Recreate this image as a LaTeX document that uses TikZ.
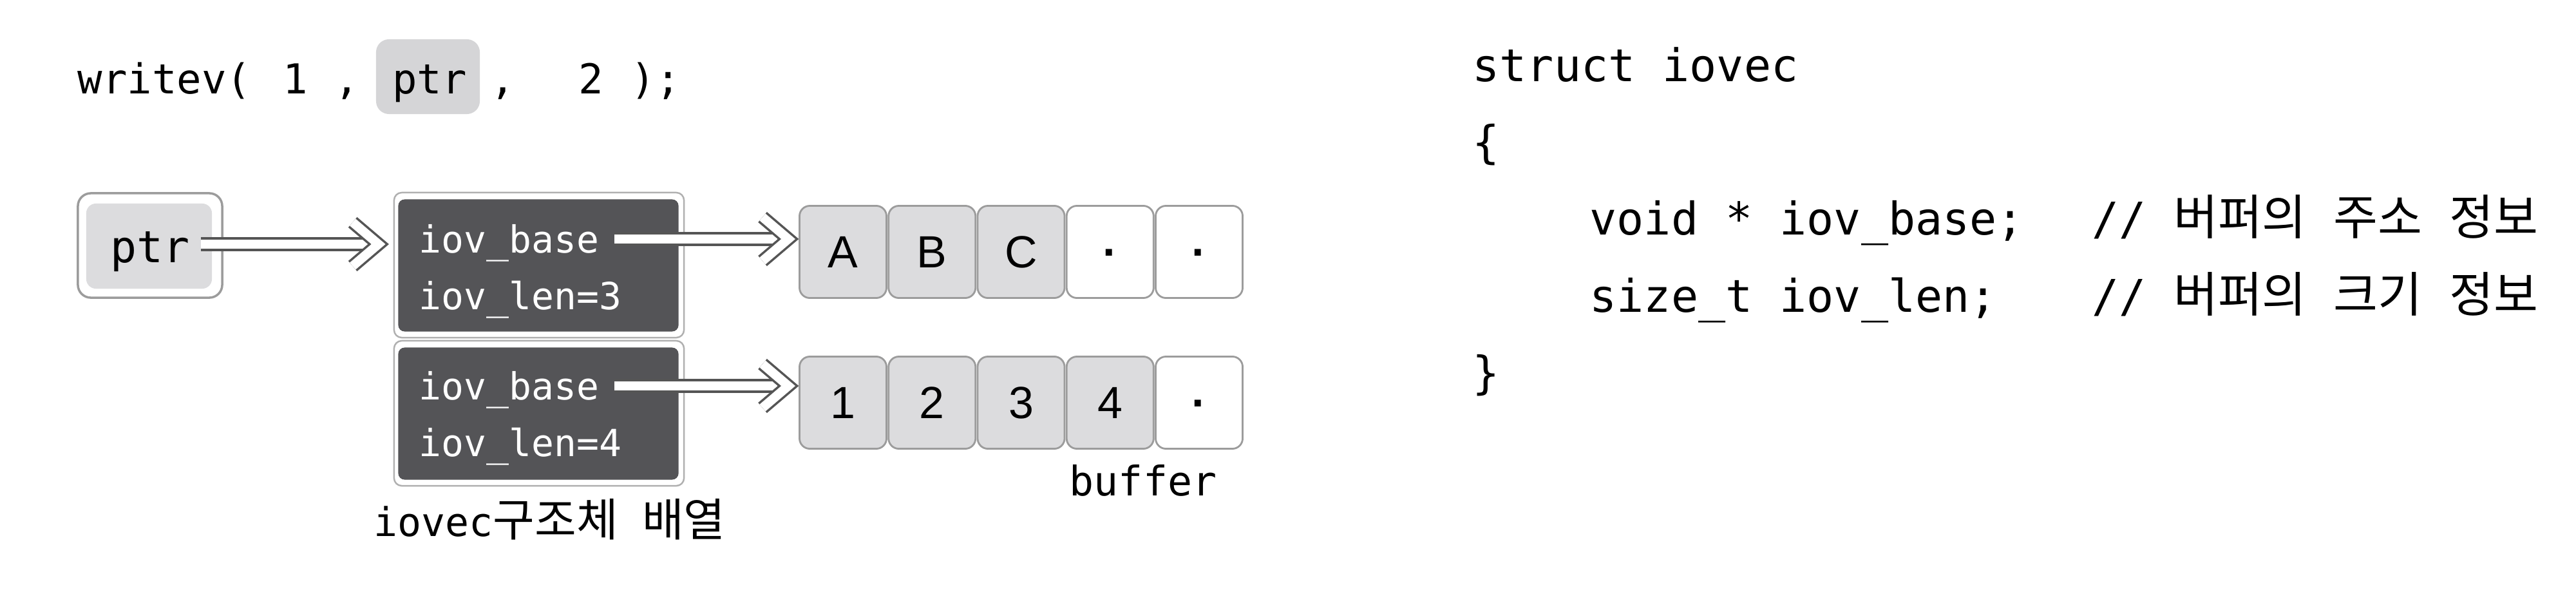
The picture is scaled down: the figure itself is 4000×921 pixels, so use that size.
\documentclass[tikz,border=0pt]{standalone}
\usepackage{fontspec}
\usetikzlibrary{calc}
\newfontfamily\monof{DejaVu Sans Mono}
\newfontfamily\krf{Noto Sans CJK KR}
\newfontfamily\sansf{Liberation Sans}
\newcommand\codeF{\monof\fontsize{19.9pt}{24pt}\selectfont}
\newcommand\wrF{\monof\fontsize{18.2pt}{22pt}\selectfont}
\newcommand\ptrF{\monof\fontsize{19.4pt}{23pt}\selectfont}
\newcommand\ivF{\monof\fontsize{16.5pt}{20pt}\selectfont}
\newcommand\bufF{\monof\fontsize{18pt}{22pt}\selectfont}
\newcommand\lblF{\monof\fontsize{17.5pt}{21pt}\selectfont}
\newcommand\cellF{\sansf\fontsize{19.9pt}{24pt}\selectfont}
\newcommand\krCode[1]{{\krf\fontsize{21.3pt}{24pt}\selectfont #1}}
\newcommand\krLbl[1]{{\krf\fontsize{20pt}{24pt}\selectfont #1}}
\definecolor{cellgray}{HTML}{DCDCDE}
\definecolor{edgegray}{HTML}{9C9C9C}
\definecolor{darkbox}{HTML}{545457}
\definecolor{hlgray}{HTML}{D5D5D7}
\definecolor{arrowgray}{HTML}{555555}
\begin{document}
\begin{tikzpicture}[x=0.01cm,y=-0.01cm,
  txt/.style={inner sep=0pt, anchor=base west},
  ctxt/.style={inner sep=0pt, anchor=base},
  hlbox/.style={fill=hlgray, rounded corners=0.2cm, minimum width=1.61cm, minimum height=1.16cm, inner sep=0pt},
  ptrout/.style={draw=edgegray, line width=1pt, fill=white, rounded corners=0.2cm, minimum width=2.24cm, minimum height=1.62cm, inner sep=0pt},
  ptrin/.style={fill=cellgray, rounded corners=0.15cm, minimum width=1.95cm, minimum height=1.32cm, inner sep=0pt},
  sout/.style={draw=edgegray!80, line width=0.7pt, fill=white, rounded corners=0.12cm, minimum width=4.5cm, minimum height=2.25cm, inner sep=0pt},
  sin/.style={fill=darkbox, rounded corners=0.1cm, minimum width=4.35cm, minimum height=2.05cm, inner sep=0pt},
  ivtxt/.style={txt, font=\ivF, text=white},
  cellbox/.style={draw=edgegray, line width=0.8pt, rounded corners=0.16cm, minimum width=1.35cm, minimum height=1.43cm, inner sep=0pt, font=\cellF, text height=14.2pt, text depth=0pt},
  fullcell/.style={cellbox, fill=cellgray},
  emptycell/.style={cellbox, fill=white, font=\cellF\bfseries},
  dblline/.style={draw=arrowgray, line width=1pt, double=white, double distance=4pt},
  chev/.pic={\draw[dblline, line join=miter, line cap=butt] (-40,-34) -- (0,0) -- (-40,34);}
]
\useasboundingbox (0,0) rectangle (4000,921);

% writev line
\node[hlbox] (hl) at (664.5,119) {};
\node[txt, font=\wrF] (w1) at (120,145) {writev(};
\node[ctxt, font=\wrF] (w2) at (459,145) {1};
\node[ctxt, font=\wrF] (w3) at (539,145) {,};
\node[ctxt, font=\wrF] (wp) at (667,145) {ptr};
\node[ctxt, font=\wrF] (w4) at (781,145) {,};
\node[ctxt, font=\wrF] (w5) at (918,145) {2};
\node[ctxt, font=\wrF] (w6) at (1018,145) {);};

% ptr node
\node[ptrout] (po) at (233,381) {};
\node[ptrin] (pi) at (231.5,382) {};
\node[ctxt, font=\ptrF] (pt) at (233,407) {ptr};

% iovec structures
\node[sout] (o1) at (837,411.5) {};
\node[sin] (i1) at (836,412) {};
\node[ivtxt] (b1) at (650,392) {iov\_base};
\node[ivtxt] (l1) at (650,480) {iov\_len=3};
\node[sout] (o2) at (837,641.5) {};
\node[sin] (i2) at (836,642) {};
\node[ivtxt] (b2) at (650,620) {iov\_base};
\node[ivtxt] (l2) at (650,708) {iov\_len=4};

% buffers
\node[fullcell] (cA) at (1309,391) {A};
\node[fullcell] (cB) at (1447.25,391) {B};
\node[fullcell] (cC) at (1585.5,391) {C};
\node[emptycell] (cD) at (1723.75,391) {·};
\node[emptycell] (cE) at (1862,391) {·};
\node[fullcell] (c1) at (1309,625) {1};
\node[fullcell] (c2) at (1447.25,625) {2};
\node[fullcell] (c3) at (1585.5,625) {3};
\node[fullcell] (c4) at (1723.75,625) {4};
\node[emptycell] (c5) at (1862,625) {·};

% arrows (double shaft + hollow chevron head)
\coordinate (s0) at ($(pt.base east)+(17,-28)$);
\coordinate (e0) at ($(s0 -| o1.west)+(-23,0)$);
\draw[dblline] (s0) -- (e0);
\path (e0) pic {chev};
\coordinate (s1) at ($(b1.base east)+(23,-21)$);
\coordinate (e1) at ($(s1 -| cA.west)+(-16,0)$);
\draw[dblline] (s1) -- (e1);
\path (e1) pic {chev};
\coordinate (s2) at ($(b2.base east)+(23,-21)$);
\coordinate (e2) at ($(s2 -| c1.west)+(-16,0)$);
\draw[dblline] (s2) -- (e2);
\path (e2) pic {chev};

% labels
\node[txt, font=\bufF] (bl) at (1660,769) {buffer};
\node[txt, font=\lblF] (al) at (580,832) {iovec\krLbl{구조체} \krLbl{배열}};

% struct definition
\node[txt, font=\codeF] (r1) at (2286,126) {struct iovec};
\node[txt, font=\codeF] (r2) at (2286,245) {\{};
\node[txt, font=\codeF] (r3) at (2468,364) {void * iov\_base;};
\node[txt, font=\codeF] (r3c) at (3248,364) {// \krCode{버퍼의} \krCode{주소} \krCode{정보}};
\node[txt, font=\codeF] (r4) at (2468,484) {size\_t iov\_len;};
\node[txt, font=\codeF] (r4c) at (3248,484) {// \krCode{버퍼의} \krCode{크기} \krCode{정보}};
\node[txt, font=\codeF] (r5) at (2286,603) {\}};
\end{tikzpicture}
\end{document}
